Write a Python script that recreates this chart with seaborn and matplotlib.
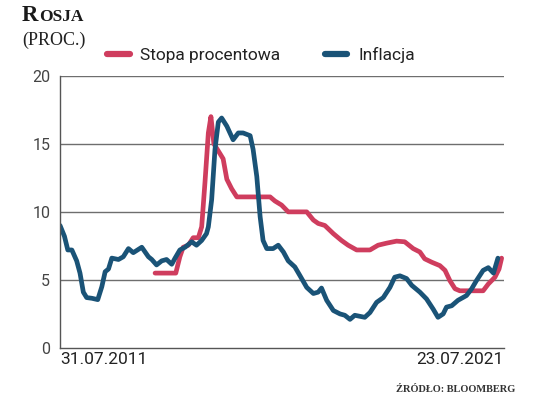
import matplotlib
matplotlib.use("Agg")
import matplotlib.pyplot as plt
import seaborn as sns
import pandas as pd

# months since 31.07.2011
inflacja_mies = [0, 1.2, 2.1, 3.2, 4.5, 5.4, 6.3, 7.2, 8.6, 10.2, 11.3, 12.2, 13.1, 14.0,
                 15.8, 17.1, 18.5, 19.8, 22.1, 23.9, 24.8, 26.1, 27.5, 28.8, 30.2, 31.1,
                 32.4, 33.8, 35.6, 36.9, 38.3, 39.6, 40.1, 41.0, 41.9, 42.8, 43.7, 45.1,
                 46.8, 48.2, 49.5, 51.4, 52.2, 53.2, 54.1, 54.9, 55.9, 57.6, 59.0, 60.4,
                 61.7, 63.5, 64.9, 66.7, 68.5, 69.8, 70.7, 72.1, 73.9, 75.7, 77.0, 78.4,
                 79.7, 82.4, 83.8, 85.6, 87.4, 89.2, 90.5, 91.9, 93.7, 95.1, 97.3, 99.1,
                 100.9, 102.2, 103.6, 104.5, 105.9, 107.6, 109.9, 111.3, 112.6, 114.4,
                 115.8, 117.2, 118.4]
inflacja = [9.0, 8.2, 7.2, 7.2, 6.4, 5.5, 4.1, 3.7, 3.65, 3.55, 4.5, 5.6, 5.8, 6.6,
            6.5, 6.7, 7.3, 7.0, 7.4, 6.7, 6.5, 6.1, 6.4, 6.5, 6.15, 6.6,
            7.2, 7.4, 7.8, 7.55, 7.9, 8.4, 8.9, 10.9, 14.6, 16.6, 16.9, 16.3,
            15.3, 15.8, 15.8, 15.6, 14.6, 12.6, 9.65, 7.9, 7.3, 7.3, 7.55, 7.05,
            6.4, 5.95, 5.3, 4.45, 4.0, 4.1, 4.4, 3.5, 2.75, 2.5, 2.4, 2.1,
            2.4, 2.25, 2.6, 3.35, 3.7, 4.45, 5.2, 5.3, 5.1, 4.6, 4.1, 3.6,
            2.85, 2.25, 2.5, 3.0, 3.1, 3.5, 3.85, 4.35, 4.95, 5.7,
            5.9, 5.5, 6.6]

stopa_mies = [25.7, 31.3, 32.4, 33.3, 34.7, 36.0, 37.4, 38.3, 39.2, 40.1, 40.8, 41.6,
              43.2, 44.1, 45.1, 46.4, 47.8, 56.8, 58.1, 59.9, 61.7, 66.7, 68.5, 69.8,
              71.6, 73.9, 76.1, 77.9, 80.2, 83.8, 86.0, 88.3, 91.0, 93.2, 95.5, 97.3,
              98.6, 100.5, 102.7, 104.1, 105.4, 106.8, 108.1, 114.4, 115.8, 117.6,
              118.7, 119.4]
stopa = [5.5, 5.5, 6.7, 7.4, 7.55, 8.1, 8.1, 8.9, 12.2, 15.8, 17.0, 15.0,
         14.3, 13.9, 12.4, 11.7, 11.1, 11.1, 10.8, 10.5, 10.0, 10.0, 9.4, 9.15,
         9.0, 8.4, 7.9, 7.55, 7.2, 7.2, 7.55, 7.7, 7.85, 7.8, 7.3, 7.05,
         6.55, 6.3, 6.05, 5.7, 4.95, 4.35, 4.2, 4.2, 4.7, 5.2,
         5.8, 6.6]

y_ticks = [0, 5, 10, 15, 20]
x_labels = ["31.07.2011", "23.07.2021"]
serie = ["Stopa procentowa", "Inflacja"]
kolory = ["#cf3d5e", "#1a5377"]

df = pd.concat([
    pd.DataFrame({"miesiac": stopa_mies, "wartosc": stopa, "seria": serie[0]}),
    pd.DataFrame({"miesiac": inflacja_mies, "wartosc": inflacja, "seria": serie[1]}),
])

sns.set_style("white")
plt.rcParams["font.family"] = ["Roboto", "DejaVu Sans"]
serif = ["Liberation Serif"]

fig = plt.figure(figsize=(5.36, 3.99), dpi=100)
ax = fig.add_axes([0.112, 0.128, 0.828, 0.682])

sns.lineplot(data=df, x="miesiac", y="wartosc", hue="seria", palette=kolory,
             linewidth=3.4, ax=ax, legend=False, sort=False, estimator=None)

ax.set_xlim(0, 120)
ax.set_ylim(0, 20)
ax.set_yticks(y_ticks)
ax.set_yticklabels([str(t) for t in y_ticks], fontsize=11.5, color="#444444")
ax.set_xticks([0, 120])
ax.set_xticklabels(x_labels, fontsize=12.5, color="#222222")
ax.get_xticklabels()[0].set_ha("left")
ax.get_xticklabels()[1].set_ha("right")
ax.tick_params(axis="y", length=0, pad=7)
ax.tick_params(axis="x", length=0, pad=3)
ax.set_xlabel("")
ax.set_ylabel("")
for y in y_ticks[1:]:
    ax.axhline(y, color="#6e6e6e", linewidth=1.0, zorder=0)
for s in ["top", "right"]:
    ax.spines[s].set_visible(False)
for s in ["left", "bottom"]:
    ax.spines[s].set_color("#555555")
    ax.spines[s].set_linewidth(1.0)

# title in small caps look
fig.text(0.041, 0.948, "R", fontsize=16.5, fontweight="bold", family=serif, color="#1a1a1a")
fig.text(0.073, 0.948, "OSJA", fontsize=12.5, fontweight="bold", family=serif, color="#1a1a1a")
fig.text(0.041, 0.888, "(PROC.)", fontsize=13, family=serif, color="#222222")

# legend
for i, (nazwa, x0) in enumerate(zip(serie, [0.200, 0.606])):
    fig.add_artist(plt.Line2D([x0, x0 + 0.042], [0.865, 0.865], color=kolory[i],
                              linewidth=4.5, solid_capstyle="round"))
    fig.text(x0 + 0.062, 0.862, nazwa, fontsize=12.5, va="center", color="#222222")

fig.text(0.962, 0.018, "ŹRÓDŁO: BLOOMBERG", fontsize=7.5, fontweight="bold",
         family=serif, ha="right", color="#333333")

fig.savefig("out.png", dpi=100)
